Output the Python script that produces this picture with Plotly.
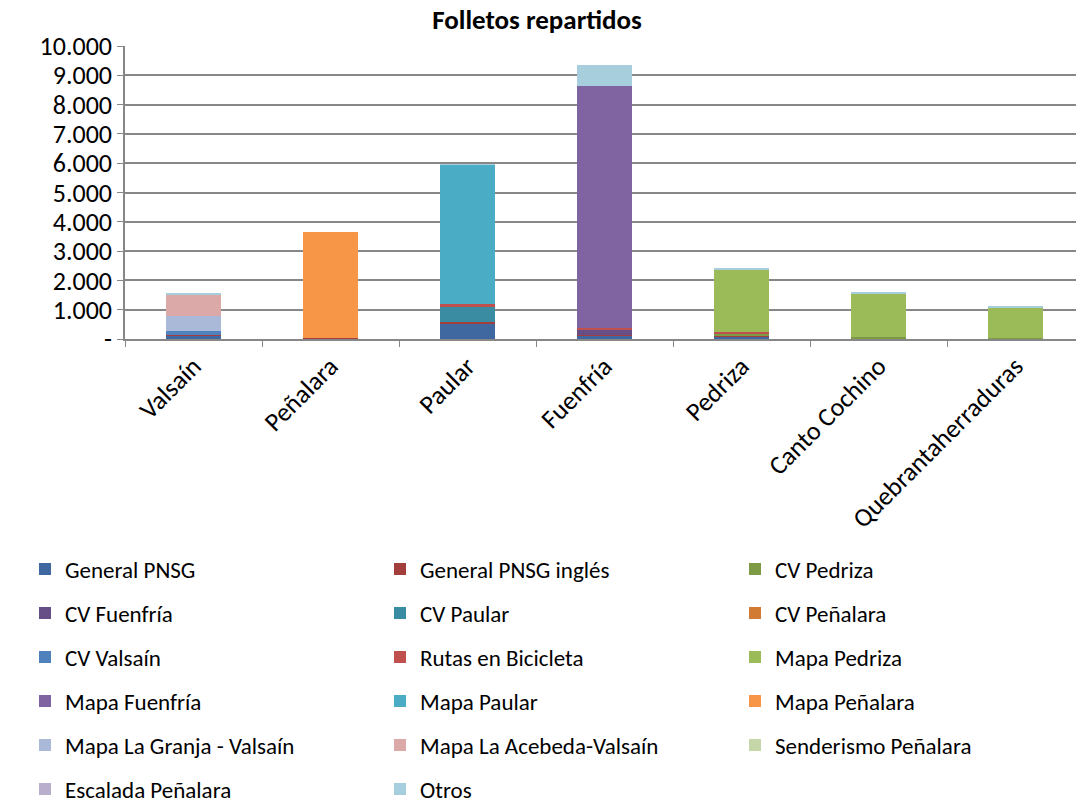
import plotly.graph_objects as go

# Data
centros = ["Valsaín", "Peñalara", "Paular", "Fuenfría", "Pedriza",
           "Canto Cochino", "Quebrantaherraduras"]

general_pnsg = [130, 30, 530, 110, 80, 20, 15]
general_pnsg_ingles = [20, 5, 50, 30, 10, 0, 0]
cv_pedriza = [0, 0, 0, 0, 110, 50, 25]
cv_fuenfria = [0, 0, 0, 190, 0, 0, 0]
cv_paular = [0, 0, 500, 0, 0, 0, 0]
cv_penalara = [0, 10, 0, 0, 0, 0, 0]
cv_valsain = [110, 0, 0, 0, 0, 0, 0]
rutas_bicicleta = [0, 0, 110, 60, 40, 0, 0]
mapa_pedriza = [0, 0, 0, 0, 2120, 1490, 1020]
mapa_fuenfria = [0, 0, 0, 8230, 0, 0, 0]
mapa_paular = [0, 0, 4770, 0, 0, 0, 0]
mapa_penalara = [0, 3600, 0, 0, 0, 0, 0]
mapa_granja_valsain = [515, 0, 0, 0, 0, 0, 0]
mapa_acebeda_valsain = [745, 0, 0, 0, 0, 0, 0]
senderismo_penalara = [0, 0, 0, 0, 0, 0, 0]
escalada_penalara = [0, 0, 0, 0, 0, 0, 0]
otros = [30, 0, 10, 740, 55, 45, 40]

y_ticks = [0, 1000, 2000, 3000, 4000, 5000, 6000, 7000, 8000, 9000, 10000]
y_tick_labels = ["-", "1.000", "2.000", "3.000", "4.000", "5.000",
                 "6.000", "7.000", "8.000", "9.000", "10.000"]

# (name, values, colour) in stacking order, bottom first
series = [
    ("General PNSG", general_pnsg, "#3F67A0"),
    ("General PNSG inglés", general_pnsg_ingles, "#A23E3B"),
    ("CV Pedriza", cv_pedriza, "#7D9B45"),
    ("CV Fuenfría", cv_fuenfria, "#664F87"),
    ("CV Paular", cv_paular, "#398CA2"),
    ("CV Peñalara", cv_penalara, "#D07A32"),
    ("CV Valsaín", cv_valsain, "#4F81BD"),
    ("Rutas en Bicicleta", rutas_bicicleta, "#C0504D"),
    ("Mapa Pedriza", mapa_pedriza, "#9BBB59"),
    ("Mapa Fuenfría", mapa_fuenfria, "#8064A2"),
    ("Mapa Paular", mapa_paular, "#4BACC6"),
    ("Mapa Peñalara", mapa_penalara, "#F79646"),
    ("Mapa La Granja - Valsaín", mapa_granja_valsain, "#AAB9D8"),
    ("Mapa La Acebeda-Valsaín", mapa_acebeda_valsain, "#DBA9A8"),
    ("Senderismo Peñalara", senderismo_penalara, "#C5D7A8"),
    ("Escalada Peñalara", escalada_penalara, "#B9AECB"),
    ("Otros", otros, "#A6CEDC"),
]

FONT = "Carlito, Lato, sans-serif"
# the page body adds an 8 px margin, so the figure is drawn 8 px smaller
# and every pixel position below is in figure coordinates (page - 8)
PAGE_OFFSET = 8
W, H = 1084 - PAGE_OFFSET, 803 - PAGE_OFFSET
LEFT, TOP, BOTTOM_PX = 125 - PAGE_OFFSET, 46 - PAGE_OFFSET, 339 - PAGE_OFFSET

# legend grid (page pixels): three columns, rows 44 px apart
legend_cols = [25, 380, 735]
legend_rows = [569, 613, 657, 701, 745, 789]

fig = go.Figure()
layout_legends = {}
for i, (name, values, colour) in enumerate(series):
    key = "legend" if i == 0 else f"legend{i + 1}"
    fig.add_trace(go.Bar(
        x=centros, y=values, name=name,
        marker=dict(color=colour, line=dict(width=0)),
        legend=key,
    ))
    layout_legends[key] = dict(
        xref="container", yref="container",
        x=(legend_cols[i % 3] - PAGE_OFFSET) / W, xanchor="left",
        y=1 - (legend_rows[i // 3] - PAGE_OFFSET) / H, yanchor="middle",
        itemwidth=30,
        font=dict(family=FONT, size=23, color="#000000"),
        bgcolor="rgba(0,0,0,0)",
    )

fig.update_layout(
    barmode="stack",
    bargap=0.6,
    width=W, height=H,
    margin=dict(l=LEFT, r=0, t=TOP, b=H - BOTTOM_PX, autoexpand=False),
    paper_bgcolor="white", plot_bgcolor="white",
    font=dict(family=FONT, color="#000000"),
    title=dict(text="<b>Folletos repartidos</b>",
               xref="container", x=(537 - PAGE_OFFSET) / W, xanchor="center",
               yref="container", y=1 - (20 - PAGE_OFFSET) / H,
               yanchor="middle",
               font=dict(family=FONT, size=27, color="#000000")),
    showlegend=True,
    **layout_legends,
)

fig.update_yaxes(
    range=[0, 10000], tickvals=y_ticks, ticktext=y_tick_labels,
    showgrid=True, gridcolor="#878787", gridwidth=1.5,
    showline=True, linecolor="#878787", linewidth=1.5,
    ticks="outside", ticklen=6, tickcolor="#878787",
    tickfont=dict(family=FONT, size=26, color="#000000"),
    zeroline=False,
)
fig.update_xaxes(
    showline=True, linecolor="#878787", linewidth=1.5,
    ticks="outside", ticklen=6, tickcolor="#878787", tickson="boundaries",
    tickangle=-45,
    tickfont=dict(family=FONT, size=26, color="#000000"),
)

fig.write_html("out.html")
